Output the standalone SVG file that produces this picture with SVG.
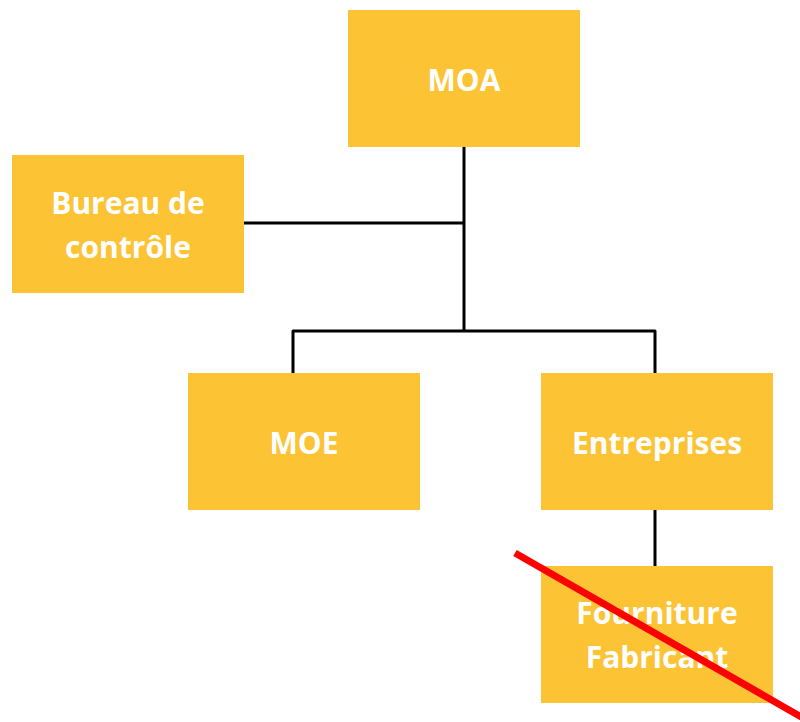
<svg xmlns="http://www.w3.org/2000/svg" width="800" height="722" viewBox="0 0 800 722">
<style>
.box{fill:#FCC334}
.t{font-family:"Open Sans","Liberation Sans",sans-serif;font-weight:700;font-size:30px;fill:#ffffff;text-anchor:middle}
.c{stroke:#000;stroke-width:3;fill:none;stroke-linejoin:round}
</style>
<rect width="800" height="722" fill="#ffffff"/>
<g id="connectors">
<path class="c" d="M464,147 V331"/>
<path class="c" d="M244,223 H464"/>
<path class="c" d="M293,373 V331 H655 V373"/>
<path class="c" d="M655,510 V566"/>
</g>
<g id="moa"><rect class="box" x="348" y="10" width="232" height="137"/><text class="t" x="464" y="91">MOA</text></g>
<g id="bureau"><rect class="box" x="12" y="155" width="232" height="138"/><text class="t" x="128" y="214">Bureau de</text><text class="t" x="128" y="258">contrôle</text></g>
<g id="moe"><rect class="box" x="188" y="373" width="232" height="137"/><text class="t" x="304" y="454">MOE</text></g>
<g id="entreprises"><rect class="box" x="541" y="373" width="232" height="137"/><text class="t" x="657" y="454">Entreprises</text></g>
<g id="fourniture"><rect class="box" x="541" y="566" width="232" height="137"/><text class="t" x="657" y="624">Fourniture</text><text class="t" x="657" y="668">Fabricant</text></g>
<line x1="515" y1="553" x2="810" y2="722" stroke="#FF0000" stroke-width="7"/>
</svg>
